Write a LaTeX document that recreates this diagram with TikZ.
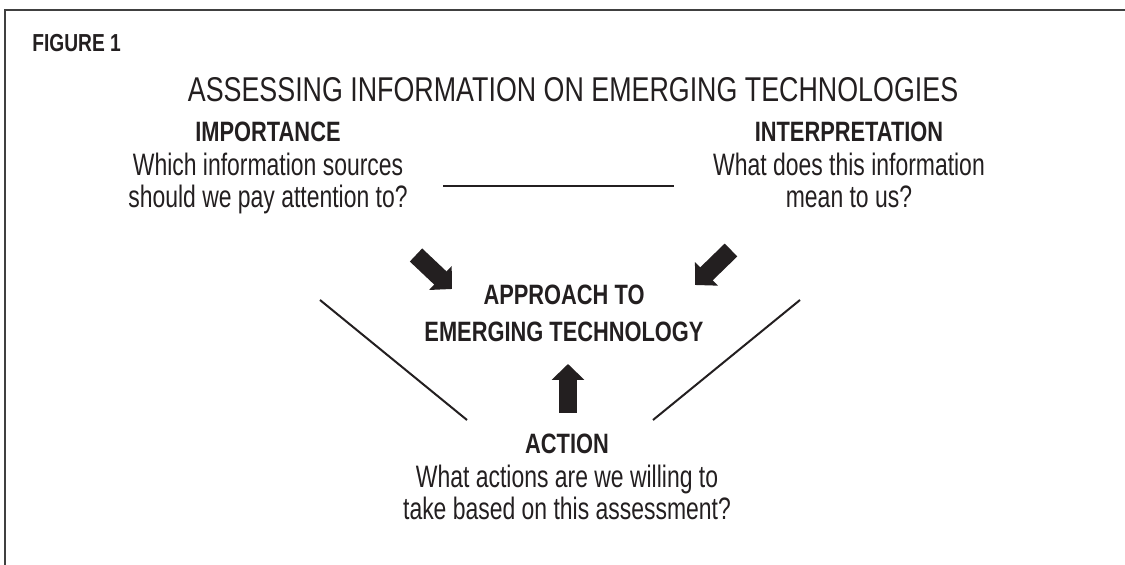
\documentclass[tikz,border=0pt]{standalone}
\usepackage{fontspec}
\setmainfont{Liberation Sans}[FakeStretch=0.78]
\newfontfamily\narrowfont{Liberation Sans}[FakeStretch=0.74]
\usetikzlibrary{arrows.meta,positioning}
\definecolor{ink}{HTML}{231F20}
\begin{document}
\begin{tikzpicture}[x=0.5pt,y=-0.5pt,
  style={text=ink,inner sep=0pt},
  head/.style={font=\fontsize{14}{18.5}\selectfont\bfseries},
  question/.style={align=center,font=\fontsize{15.5}{16}\selectfont\narrowfont},
  fatarrow/.style={draw=ink,line width=9pt,-{Triangle[width=16pt,length=8pt]}},
  rule/.style={draw=ink,line width=1pt}]
\useasboundingbox (0,0) rectangle (1125,565);
%frame, top and left only
\draw[black!75,line width=1pt] (1125,10) -- (5,10) -- (5,565);
\node[font=\fontsize{12.3}{14}\selectfont\bfseries,anchor=base west] (fig) at (32,52) {FIGURE 1};
\node[font=\fontsize{17.2}{20}\selectfont,anchor=base] (title) at (573,102) {ASSESSING INFORMATION ON EMERGING TECHNOLOGIES};
%the three corners
\node[head,anchor=base] (imp) at (268,142) {IMPORTANCE};
\node[question,below=5pt of imp] (impq) {Which information sources\\should we pay attention to?};
\node[head,anchor=base] (int) at (849,142) {INTERPRETATION};
\node[question,below=5pt of int] (intq) {What does this information\\mean to us?};
\node[head,anchor=base] (act) at (567,454) {ACTION};
\node[question,below=5pt of act] (actq) {What actions are we willing to\\take based on this assessment?};
%middle
\node[head,align=center] (core) at (564,313) {APPROACH TO\\EMERGING TECHNOLOGY};
%sides of the triangle
\coordinate (t1) at (443,186);
\coordinate (t2) at (674,186);
\coordinate (l1) at (320,300);
\coordinate (l2) at (467,420);
\coordinate (r1) at (800,300);
\coordinate (r2) at (653,420);
\draw[rule,line width=1.4pt] (t1) -- (t2);
\draw[rule] (l1) -- (l2);
\draw[rule] (r1) -- (r2);
%arrows into the middle
\coordinate (a1) at (416,255);
\coordinate (a2) at (452,289);
\coordinate (b1) at (731,250);
\coordinate (b2) at (695,285);
\coordinate (c1) at (568,413);
\coordinate (c2) at (568,364);
\draw[fatarrow] (a1) -- (a2);
\draw[fatarrow] (b1) -- (b2);
\draw[fatarrow] (c1) -- (c2);
\end{tikzpicture}
\end{document}
